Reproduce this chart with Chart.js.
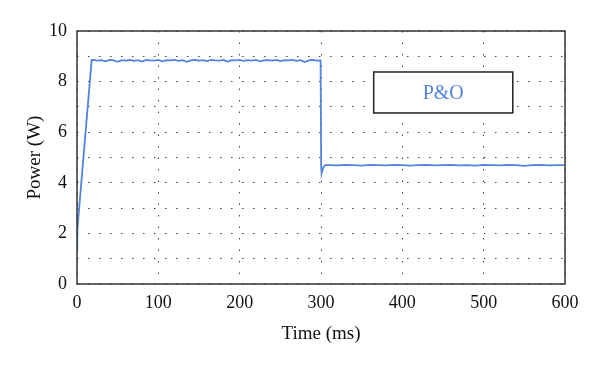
<!DOCTYPE html>
<html>
<head>
<meta charset="utf-8">
<script src="https://cdn.jsdelivr.net/npm/chart.js@4/dist/chart.umd.min.js"></script>
<style>
  html, body { margin: 0; padding: 0; background: #fff; }
  #wrap { width: 600px; height: 367px; }
</style>
</head>
<body>
<div id="wrap"><canvas id="powerChart"></canvas></div>
<script>
// P&O power response
const seriesLabel = 'P&O';
const timeMs = [
    0, 0.3, 18,
    20, 25, 30, 35, 40, 45, 50, 55, 60, 65, 70, 75, 80, 85, 90, 95,
    100, 105, 110, 115, 120, 125, 130, 135, 140, 145, 150, 155, 160, 165, 170, 175,
    180, 185, 190, 195, 200, 205, 210, 215, 220, 225, 230, 235, 240, 245, 250, 255,
    260, 265, 270, 275, 280, 285, 290, 295,
    299.5, 300.2, 300.8, 303, 305,
    310, 320, 330, 340, 350, 360, 370, 380, 390, 400, 410, 420, 430, 440, 450,
    460, 470, 480, 490, 500, 510, 520, 530, 540, 550, 560, 570, 580, 590, 600
];
const powerW = [
    1.4, 2.1, 8.85,
    8.86, 8.83, 8.85, 8.80, 8.86, 8.84, 8.78, 8.85, 8.83, 8.86, 8.82, 8.85, 8.79, 8.86, 8.84, 8.83,
    8.86, 8.80, 8.85, 8.84, 8.86, 8.82, 8.85, 8.78, 8.84, 8.86, 8.83, 8.85, 8.81, 8.86, 8.84, 8.83,
    8.86, 8.79, 8.85, 8.84, 8.86, 8.82, 8.85, 8.83, 8.86, 8.80, 8.84, 8.85, 8.83, 8.86, 8.81, 8.85,
    8.84, 8.86, 8.82, 8.85, 8.77, 8.84, 8.86, 8.83,
    8.84, 4.6, 4.38, 4.62, 4.70,
    4.70, 4.69, 4.71, 4.70, 4.68, 4.71, 4.70, 4.69, 4.71, 4.70, 4.68, 4.70, 4.71, 4.69, 4.70,
    4.71, 4.69, 4.70, 4.68, 4.71, 4.70, 4.69, 4.71, 4.70, 4.67, 4.70, 4.71, 4.69, 4.70, 4.70
];
const xTicks = [0, 100, 200, 300, 400, 500, 600];
const yLabelTicks = [0, 2, 4, 6, 8, 10];

const lineColor = '#5384de';
const serif = "'Liberation Serif', 'DejaVu Serif', serif";

// box round the plot area plus the P&O label box
const framePlugin = {
    id: 'frame',
    afterDraw(chart) {
        const ctx = chart.ctx;
        const a = chart.chartArea;
        ctx.save();
        ctx.strokeStyle = '#333';
        ctx.lineWidth = 1.5;
        ctx.strokeRect(a.left, a.top, a.right - a.left, a.bottom - a.top);

        const bx = a.left + (a.right - a.left) * 0.608;
        const by = a.top + (a.bottom - a.top) * 0.162;
        const bw = (a.right - a.left) * 0.285;
        const bh = (a.bottom - a.top) * 0.162;
        ctx.fillStyle = '#fff';
        ctx.fillRect(bx, by, bw, bh);
        ctx.strokeStyle = '#222';
        ctx.lineWidth = 1.5;
        ctx.strokeRect(bx, by, bw, bh);
        ctx.fillStyle = lineColor;
        ctx.font = '20px ' + serif;
        ctx.textAlign = 'center';
        ctx.textBaseline = 'middle';
        ctx.fillText(seriesLabel, bx + bw / 2, by + bh / 2 + 1);
        ctx.restore();
    }
};

document.addEventListener('DOMContentLoaded', function() {
    const ctx = document.getElementById('powerChart').getContext('2d');
    new Chart(ctx, {
        type: 'line',
        data: {
            datasets: [{
                label: seriesLabel,
                data: timeMs.map((t, i) => ({ x: t, y: powerW[i] })),
                borderColor: lineColor,
                borderWidth: 1.8,
                pointRadius: 0,
                tension: 0,
                fill: false
            }]
        },
        options: {
            responsive: true,
            maintainAspectRatio: false,
            animation: false,
            layout: { padding: { left: 20, right: 35, top: 31, bottom: 18 } },
            plugins: {
                legend: { display: false },
                tooltip: { enabled: false }
            },
            scales: {
                x: {
                    type: 'linear',
                    min: 0,
                    max: 600,
                    afterBuildTicks: axis => { axis.ticks = xTicks.map(v => ({ value: v })); },
                    afterFit: axis => { axis.height = 65; },
                    grid: { color: '#444', lineWidth: 1, drawTicks: false },
                    border: { display: false, dash: [1.5, 10] },
                    ticks: { color: '#111', padding: 8, font: { family: serif, size: 18 } },
                    title: {
                        display: true,
                        text: 'Time (ms)',
                        color: '#111',
                        font: { family: serif, size: 19 }
                    }
                },
                y: {
                    min: 0,
                    max: 10,
                    afterBuildTicks: axis => {
                        axis.ticks = [0, 1, 2, 3, 4, 5, 6, 7, 8, 9, 10].map(v => ({ value: v }));
                    },
                    afterFit: axis => { axis.width = 57; },
                    grid: { color: '#444', lineWidth: 1, drawTicks: false },
                    border: { display: false, dash: [1.5, 9.5] },
                    ticks: {
                        color: '#111',
                        padding: 10,
                        font: { family: serif, size: 18 },
                        callback: v => yLabelTicks.includes(v) ? v : ''
                    },
                    title: {
                        display: true,
                        text: 'Power (W)',
                        color: '#111',
                        font: { family: serif, size: 19 }
                    }
                }
            }
        },
        plugins: [framePlugin]
    });
});
</script>
</body>
</html>
